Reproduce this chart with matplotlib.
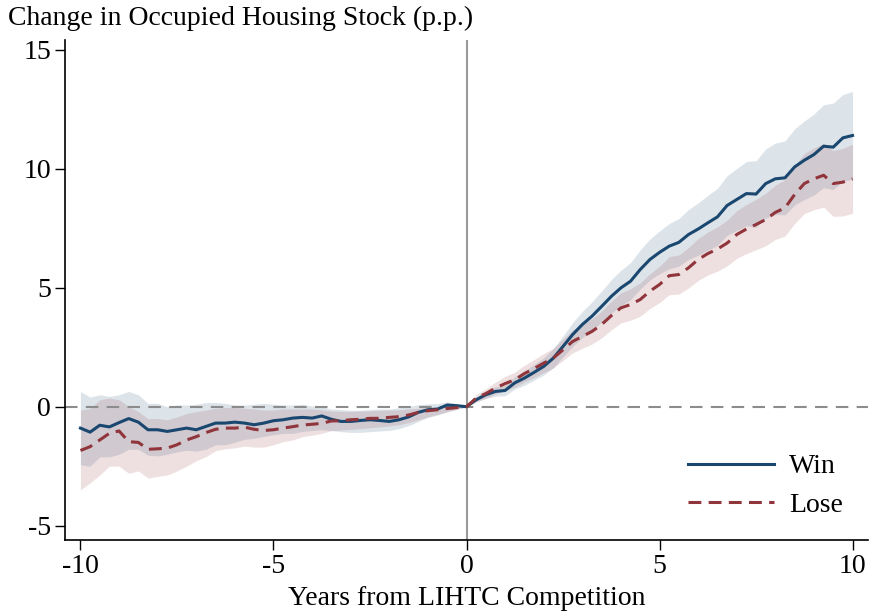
import numpy as np
import matplotlib
matplotlib.use("Agg")
import matplotlib.pyplot as plt

plt.rcParams['font.family'] = ['Liberation Serif', 'DejaVu Serif']
plt.rcParams['axes.unicode_minus'] = False

# quarters from -10 to 10 years
quarters = np.arange(-40, 41) / 4

win = [-0.90, -1.07, -0.78, -0.85, -0.67, -0.50, -0.65, -0.97, -0.97, -1.04,
       -0.97, -0.90, -0.97, -0.83, -0.69, -0.69, -0.65, -0.69, -0.76, -0.69,
       -0.59, -0.55, -0.48, -0.45, -0.48, -0.39, -0.53, -0.62, -0.62, -0.58,
       -0.55, -0.58, -0.62, -0.55, -0.43, -0.24, -0.13, -0.10, 0.07, 0.04,
       0.00,
       0.29, 0.50, 0.64, 0.68, 1.00, 1.20, 1.44, 1.69, 2.04, 2.53,
       3.03, 3.45, 3.80, 4.21, 4.63, 4.99, 5.27, 5.76, 6.18, 6.48,
       6.74, 6.90, 7.23, 7.46, 7.72, 7.97, 8.45, 8.70, 8.95, 8.93,
       9.37, 9.57, 9.61, 10.07, 10.35, 10.59, 10.94, 10.90, 11.29, 11.39]

win_hi = [0.64, 0.40, 0.50, 0.43, 0.50, 0.64, 0.50, 0.14, 0.14, 0.00,
          0.07, 0.07, 0.10, 0.17, 0.17, 0.14, 0.07, 0.07, 0.10, 0.14,
          0.10, 0.07, 0.07, 0.10, 0.03, 0.00, -0.10, -0.12, -0.15, -0.15,
          -0.12, -0.10, -0.10, -0.05, 0.00, 0.08, 0.12, 0.13, 0.20, 0.12,
          0.00,
          0.39, 0.65, 0.84, 0.90, 1.26, 1.50, 1.77, 2.05, 2.44, 2.97,
          3.53, 4.00, 4.40, 4.86, 5.33, 5.73, 6.05, 6.58, 7.04, 7.38,
          7.69, 7.90, 8.28, 8.56, 8.87, 9.17, 9.70, 10.00, 10.30, 10.33,
          10.82, 11.07, 11.16, 11.67, 12.00, 12.29, 12.68, 12.75, 13.11, 13.24]

win_lo = [-2.44, -2.50, -2.11, -2.11, -2.00, -1.79, -1.79, -2.04, -2.07, -2.00,
          -1.90, -1.83, -1.87, -1.79, -1.60, -1.60, -1.50, -1.37, -1.33, -1.25,
          -1.18, -1.12, -1.12, -1.04, -1.00, -0.97, -1.00, -1.05, -1.08, -1.08,
          -1.05, -1.02, -1.00, -0.92, -0.80, -0.62, -0.45, -0.35, -0.22, -0.12,
          0.00,
          0.19, 0.35, 0.44, 0.46, 0.74, 0.90, 1.11, 1.33, 1.64, 2.09,
          2.53, 2.90, 3.20, 3.56, 3.93, 4.25, 4.49, 4.94, 5.32, 5.58,
          5.79, 5.90, 6.18, 6.36, 6.57, 6.77, 7.20, 7.40, 7.60, 7.53,
          7.92, 8.07, 8.06, 8.47, 8.70, 8.89, 9.20, 9.12, 9.47, 9.54]

lose = [-1.84, -1.68, -1.40, -1.12, -1.02, -1.47, -1.50, -1.79, -1.77, -1.74,
        -1.60, -1.40, -1.26, -1.09, -0.95, -0.90, -0.90, -0.86, -0.95, -1.00,
        -0.97, -0.90, -0.84, -0.77, -0.74, -0.70, -0.60, -0.59, -0.55, -0.53,
        -0.49, -0.49, -0.45, -0.42, -0.35, -0.24, -0.17, -0.13, -0.08, -0.04,
        0.00,
        0.36, 0.55, 0.78, 0.97, 1.13, 1.39, 1.60, 1.83, 2.04, 2.39,
        2.74, 2.95, 3.16, 3.45, 3.82, 4.15, 4.29, 4.50, 4.85, 5.13,
        5.50, 5.55, 5.83, 6.18, 6.43, 6.62, 6.87, 7.23, 7.46, 7.65,
        7.86, 8.16, 8.35, 8.91, 9.37, 9.57, 9.72, 9.37, 9.43, 9.57]

lose_hi = [-0.14, -0.08, 0.29, 0.36, 0.29, 0.00, -0.21, -0.50, -0.50, -0.55,
           -0.43, -0.29, -0.21, -0.14, -0.07, -0.04, -0.04, -0.07, -0.10, -0.14,
           -0.14, -0.10, -0.10, -0.10, -0.10, -0.14, -0.18, -0.20, -0.20, -0.18,
           -0.18, -0.16, -0.14, -0.14, -0.10, -0.07, -0.04, -0.02, 0.00, 0.00,
           0.00,
           0.51, 0.75, 1.03, 1.27, 1.45, 1.74, 1.98, 2.23, 2.46, 2.84,
           3.22, 3.45, 3.69, 4.01, 4.42, 4.78, 4.95, 5.20, 5.58, 5.89,
           6.30, 6.37, 6.68, 7.06, 7.33, 7.55, 7.83, 8.23, 8.49, 8.71,
           8.96, 9.30, 9.53, 10.13, 10.63, 10.87, 11.06, 10.75, 10.85, 11.02]

lose_lo = [-3.50, -3.20, -2.87, -2.50, -2.50, -2.80, -2.70, -3.00, -2.93, -2.87,
           -2.70, -2.50, -2.27, -2.10, -1.85, -1.77, -1.73, -1.66, -1.70, -1.70,
           -1.60, -1.47, -1.40, -1.26, -1.20, -1.12, -1.01, -0.98, -0.95, -0.92,
           -0.88, -0.85, -0.81, -0.76, -0.67, -0.55, -0.43, -0.32, -0.21, -0.10,
           0.00,
           0.21, 0.35, 0.53, 0.67, 0.81, 1.04, 1.22, 1.43, 1.62, 1.94,
           2.26, 2.45, 2.63, 2.89, 3.22, 3.52, 3.63, 3.80, 4.12, 4.37,
           4.70, 4.73, 4.98, 5.30, 5.53, 5.69, 5.91, 6.23, 6.43, 6.59,
           6.76, 7.02, 7.17, 7.69, 8.11, 8.27, 8.38, 7.99, 8.01, 8.12]

blue = '#1a476f'
red = '#90353b'

fig = plt.figure(figsize=(8.72, 6.14), dpi=100)
ax = fig.add_axes([65 / 872, 1 - 540 / 614, 803 / 872, 500 / 614])

ax.fill_between(quarters, win_lo, win_hi, color=blue, alpha=0.15, linewidth=0)
ax.fill_between(quarters, lose_lo, lose_hi, color=red, alpha=0.15, linewidth=0)

ax.axhline(0, color='#8c8c8c', lw=1.5, ls=(0, (6, 4)), zorder=1)
ax.axvline(0, color='#999999', lw=1.5, zorder=1)

ax.plot(quarters, win, color=blue, lw=2.2, label='Win', zorder=3)
ax.plot(quarters, lose, color=red, lw=2.2, ls=(0, (4.2, 2.4)), label='Lose', zorder=3)

ax.set_xlim(-10.4, 10.4)
ax.set_ylim(-5.6, 15.4)
ax.set_xticks([-10, -5, 0, 5, 10])
ax.set_yticks([-5, 0, 5, 10, 15])
ax.tick_params(labelsize=20, length=7, width=1, pad=3, color='black')

for s in ['top', 'right']:
    ax.spines[s].set_visible(False)
for s in ['left', 'bottom']:
    ax.spines[s].set_linewidth(1.2)

ax.set_xlabel('Years from LIHTC Competition', fontsize=20, labelpad=5)
fig.text(8 / 872, 1 - 18 / 614, 'Change in Occupied Housing Stock (p.p.)',
         fontsize=20, ha='left', va='center')

ax.legend(loc='lower right', frameon=False, fontsize=20, handlelength=3.1,
          handletextpad=0.55, labelspacing=0.46, bbox_to_anchor=(1.0, -0.005))

fig.savefig('out.png', dpi=100)
